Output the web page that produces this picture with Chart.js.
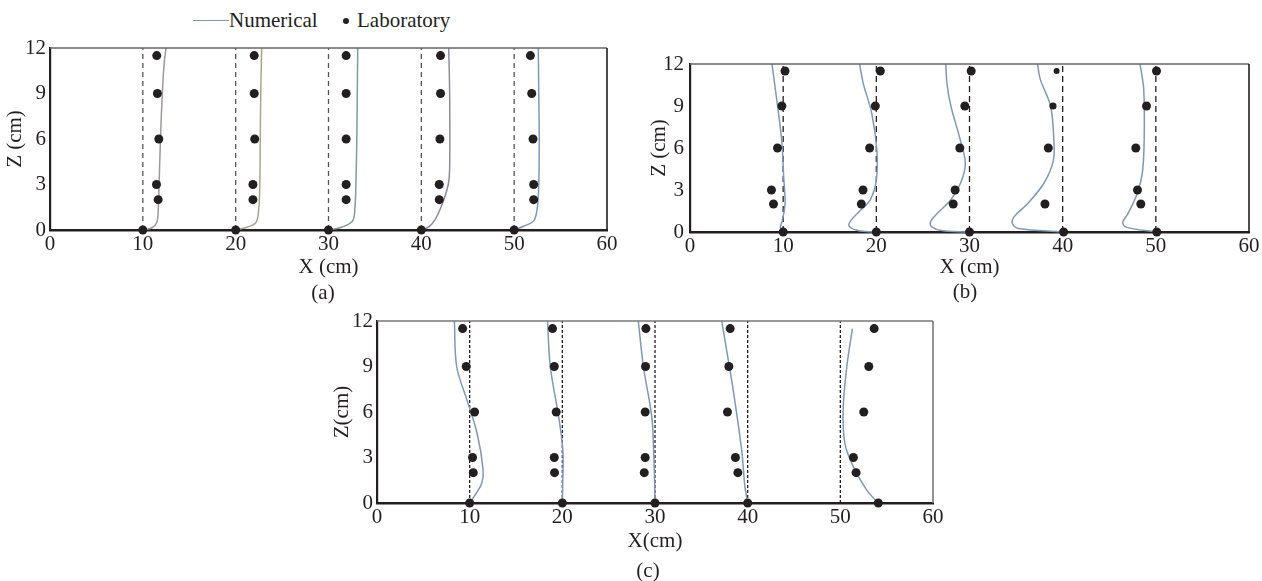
<!DOCTYPE html>
<html>
<head>
<meta charset="utf-8">
<script src="https://cdn.jsdelivr.net/npm/chart.js@4.4.1/dist/chart.umd.min.js"></script>
<style>
  body { margin: 0; background: #fff; width: 1262px; height: 581px; position: relative; overflow: hidden;
         font-family: 'Liberation Serif', 'Times New Roman', serif; color: #231f20; }
  canvas { position: absolute; }
  .txt { position: absolute; font-size: 21px; line-height: 24px; white-space: nowrap; }
  .cap { transform: translateX(-50%); }
  #lgLine { position: absolute; left: 193px; top: 20px; width: 36px; border-top: 1.5px solid #8098b8; }
  #lgDot { position: absolute; left: 343px; top: 18px; width: 6px; height: 6px; border-radius: 50%; background: #231f20; }
</style>
</head>
<body>
<div id="lgLine"></div>
<div class="txt" style="left:229px;top:8px">Numerical</div>
<div id="lgDot"></div>
<div class="txt" style="left:357px;top:8px">Laboratory</div>

<canvas id="chartA" width="640" height="310" style="left:0;top:0"></canvas>
<canvas id="chartB" width="622" height="310" style="left:640px;top:0"></canvas>
<canvas id="chartC" width="640" height="281" style="left:320px;top:300px"></canvas>

<div class="txt cap" style="left:323px;top:280px">(a)</div>
<div class="txt cap" style="left:965px;top:279px">(b)</div>
<div class="txt cap" style="left:648px;top:558px">(c)</div>

<script>
// axis ticks
const xTicks = [0, 10, 20, 30, 40, 50, 60];
const zTicks = [0, 3, 6, 9, 12];
const profiles = [10, 20, 30, 40, 50];

// laboratory depths (cm)
const zLab = [0, 2, 3, 6, 9, 11.5];

// laboratory X per profile, same order as zLab
const labA = [
  [10, 11.65, 11.47, 11.72, 11.57, 11.5],
  [20, 21.86, 21.86, 22.05, 22.0, 22.0],
  [30, 31.9, 31.9, 31.9, 31.9, 31.9],
  [40, 41.93, 41.93, 42.0, 42.07, 42.07],
  [50, 52.1, 52.1, 52.03, 51.89, 51.75]
];
const labB = [
  [10, 8.96, 8.74, 9.39, 9.86, 10.2],
  [20, 18.39, 18.57, 19.28, 19.89, 20.43],
  [30, 28.25, 28.46, 28.96, 29.5, 30.18],
  [40.1, 38.1, null, 38.46, 38.96, 39.35],
  [50.1, 48.39, 48.03, 47.85, 49.0, 50.07]
];
const labC = [
  [10, 10.39, 10.31, 10.53, 9.63, 9.24],
  [20, 19.16, 19.13, 19.34, 19.13, 18.94],
  [30, 28.84, 28.94, 28.94, 28.98, 29.02],
  [40, 38.94, 38.68, 37.82, 37.97, 38.11],
  [54.1, 51.7, 51.41, 52.53, 53.07, 53.65]
];

// numerical profiles
const numAX = [
  [10, 11.0, 11.5, 11.65, 11.75, 11.9, 12.1, 12.3, 12.5],
  [20, 21.3, 22.2, 22.5, 22.6, 22.65, 22.7, 22.8],
  [30, 31.5, 32.6, 32.85, 32.95, 33.05, 33.1, 33.15],
  [40, 40.8, 41.5, 42.3, 42.9, 43.05, 43.05, 42.95],
  [50, 51.0, 52.1, 52.5, 52.65, 52.7, 52.65, 52.6]
];
const numAZ = [
  [0, 0.15, 0.5, 1.2, 3, 6, 9, 11, 12],
  [0, 0.2, 0.5, 1.5, 3, 6, 9, 12],
  [0, 0.2, 0.6, 1.5, 3, 6, 9, 12],
  [0, 0.2, 0.7, 1.8, 3, 4, 9, 12],
  [0, 0.25, 0.6, 1.5, 3, 6, 9, 12]
];
const numBX = [
  [10, 9.7, 9.9, 10.2, 10.05, 9.85, 9.3, 8.8],
  [20, 18, 17.05, 17.3, 18.3, 19.35, 20, 20.05, 19.5, 18.6, 18.2],
  [30, 27, 26, 25.8, 26.5, 28, 29.05, 29.55, 29, 28, 27.6, 27.45],
  [40, 35.3, 34.6, 34.8, 36.2, 38, 39, 39.05, 38.7, 37.6, 37.3],
  [50, 46.8, 46.45, 47, 48, 48.55, 48.75, 48.7, 48.3]
];
const numBZ = [
  [0, 0.35, 0.8, 2, 4, 6.5, 9.5, 12],
  [0, 0.1, 0.45, 0.85, 1.55, 2.3, 3.7, 5.9, 8.5, 10.6, 12],
  [0, 0.1, 0.35, 0.7, 1.3, 2.3, 3.5, 4.9, 6.6, 9, 10.5, 12],
  [0, 0.25, 0.6, 1.1, 2, 3.5, 5.1, 6.6, 9, 10.9, 12],
  [0, 0.35, 0.7, 1.3, 2.75, 4.2, 6.6, 10.2, 12]
];
const numCX = [
  [10, 10.45, 11.3, 11.45, 10.8, 9.7, 8.6, 8.35],
  [20, 20.05, 20.05, 19.6, 18.7, 18.4],
  [30, 29.95, 29.85, 29.65, 28.75, 28.2],
  [40, 39.7, 39.35, 38.45, 37.75, 37.2],
  [54.1, 52.85, 51.4, 50.5, 50.3, 50.7, 51.3]
];
const numCZ = [
  [0, 0.4, 1.3, 2.2, 4.6, 6.8, 9, 12],
  [0, 1.5, 3.5, 5.7, 9, 12],
  [0, 1.5, 3.5, 5.7, 9, 12],
  [0, 1.1, 3.5, 7.4, 10, 12],
  [0, 0.85, 2.4, 3.9, 6.1, 9, 11.5]
];

const ink = '#231f20';
const blue = '#8098b8';
const font = { family: "'Liberation Serif', 'Times New Roman', serif", size: 21 };

// draws the top and right edges of the plot box
const frame = {
  id: 'frame',
  afterDatasetsDraw(chart, args, o) {
    const { ctx, chartArea: a } = chart;
    ctx.save();
    ctx.lineWidth = 1.6;
    ctx.strokeStyle = o.top;
    ctx.beginPath(); ctx.moveTo(a.left, a.top); ctx.lineTo(a.right, a.top); ctx.stroke();
    ctx.strokeStyle = o.right;
    ctx.beginPath(); ctx.moveTo(a.right, a.top); ctx.lineTo(a.right, a.bottom); ctx.stroke();
    ctx.restore();
  }
};

function makeChart(id, p) {
  const datasets = [];
  profiles.forEach((x0, i) => {
    datasets.push({
      data: [{ x: x0, y: 0 }, { x: x0, y: 12 }],
      showLine: true, borderColor: p.dashColor, borderWidth: 1.3, borderDash: p.dash,
      pointRadius: 0, order: 3, clip: false
    });
    datasets.push({
      data: p.numX[i].map((x, k) => ({ x, y: p.numZ[i][k] })),
      showLine: true, borderColor: p.lineColors[i], borderWidth: 1.5, tension: 0.35,
      pointRadius: 0, order: 2, clip: false
    });
    datasets.push({
      data: zLab.map((z, k) => ({ x: p.lab[i][k], y: z })).filter(d => d.x !== null),
      showLine: false, backgroundColor: ink, borderWidth: 0,
      pointRadius: p.radius ? p.radius[i].filter((r, k) => p.lab[i][k] !== null) : 4.5,
      order: 1, clip: false
    });
  });

  return new Chart(document.getElementById(id), {
    type: 'scatter',
    data: { datasets },
    options: {
      responsive: false,
      animation: false,
      layout: { padding: { top: p.top, right: p.right, left: 0, bottom: 0 } },
      plugins: { legend: { display: false }, tooltip: { enabled: false }, frame: { top: p.topColor, right: p.rightColor } },
      scales: {
        x: {
          type: 'linear', min: 0, max: 60,
          afterBuildTicks: s => { s.ticks = xTicks.map(v => ({ value: v })); },
          afterFit: s => { s.height = p.xHeight; },
          grid: { display: false, drawTicks: false },
          border: { color: ink, width: 2.5 },
          ticks: { color: ink, font, padding: 2 },
          title: { display: true, text: p.xTitle, color: ink, font, padding: { top: 0, bottom: p.xTitlePad } }
        },
        y: {
          type: 'linear', min: 0, max: 12,
          afterBuildTicks: s => { s.ticks = zTicks.map(v => ({ value: v })); },
          afterFit: s => { s.width = p.yWidth; },
          grid: { display: false, drawTicks: false },
          border: { color: ink, width: 2.2 },
          ticks: { color: ink, font, padding: p.yPad },
          title: { display: true, text: p.yTitle, color: ink, font, padding: { top: p.yTitlePad, bottom: 0 } }
        }
      }
    },
    plugins: [frame]
  });
}

makeChart('chartA', {
  lab: labA, numX: numAX, numZ: numAZ,
  lineColors: ['#a0979e', '#aaa58a', '#7f9c96', '#8e8aa2', blue],
  dashColor: '#555', dash: [5, 4],
  top: 48, right: 33, xHeight: 80, yWidth: 50, yPad: 4,
  xTitle: 'X (cm)', xTitlePad: 30, yTitle: 'Z (cm)', yTitlePad: 3,
  topColor: '#666', rightColor: ink
});

makeChart('chartB', {
  lab: labB, numX: numBX, numZ: numBZ,
  radius: [[4.5,4.5,4.5,4.5,4.5,4.5],[4.5,4.5,4.5,4.5,4.5,4.5],[4.5,4.5,4.5,4.5,4.5,4.5],[4.5,4.5,4.5,4.5,3.6,3],[4.5,4.5,4.5,4.5,4.5,4.5]],
  lineColors: [blue, blue, blue, blue, blue],
  dashColor: ink, dash: [6, 4],
  top: 64, right: 13, xHeight: 78, yWidth: 50, yPad: 6,
  xTitle: 'X (cm)', xTitlePad: 30, yTitle: 'Z (cm)', yTitlePad: 7,
  topColor: '#666', rightColor: ink
});

makeChart('chartC', {
  lab: labC, numX: numCX, numZ: numCZ,
  lineColors: [blue, blue, blue, blue, blue],
  dashColor: ink, dash: [3, 2],
  top: 21, right: 27, xHeight: 78, yWidth: 57, yPad: 4,
  xTitle: 'X(cm)', xTitlePad: 27, yTitle: 'Z(cm)', yTitlePad: 10,
  topColor: '#777', rightColor: '#777'
});
</script>
</body>
</html>
